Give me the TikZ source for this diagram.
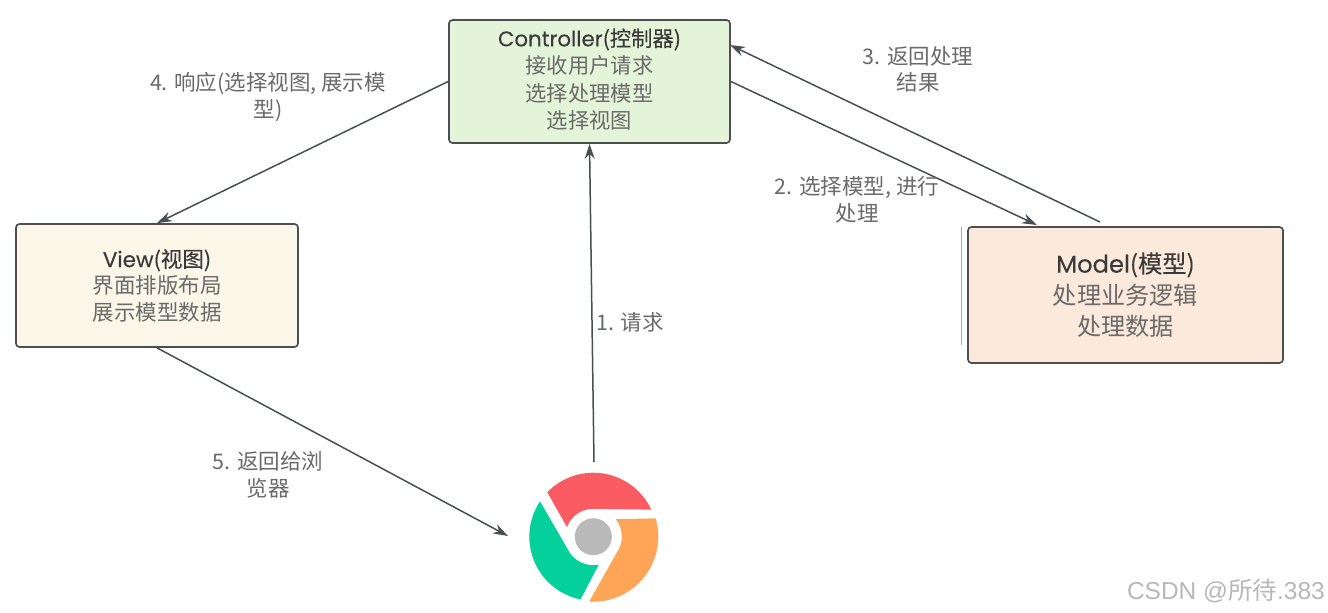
\documentclass[tikz,border=0pt]{standalone}
\usepackage{fontspec}
\usetikzlibrary{arrows.meta,calc}
\setmainfont{Noto Sans CJK SC}
\newfontfamily\latf[FakeBold=0.25]{Poppins}
\newfontfamily\titlezh[FakeBold=0.25]{Noto Sans CJK SC}
\newfontfamily\wmlat{Liberation Sans}
\newfontfamily\wmzh{Noto Sans CJK SC}
\newcommand\ttl[2]{{\color{ink}{\latf #1}{\titlezh #2}}}
\definecolor{ink}{HTML}{3A3A3A}
\definecolor{soft}{HTML}{6A6A6A}
\definecolor{edge}{HTML}{4A4F54}
\tikzset{
  box/.style={draw=edge,line width=1.7pt,rounded corners=3.5pt,inner sep=0pt,align=center,text=soft},
  conn/.style={draw=edge,line width=1.5pt,-{Stealth[length=15pt,width=10pt]}},
  lab/.style={text=soft,align=center,inner sep=0pt,font=\fontsize{21.5}{26.5}\selectfont},
  faint/.style={draw=black!35,line width=0.6pt},
}
\begin{document}
\begin{tikzpicture}[x=1pt,y=-1pt]
\useasboundingbox (0,0) rectangle (1328,613);
\fill[white] (0,0) rectangle (1328,613);
\node[box,fill={rgb,255:red,228;green,244;blue,217},minimum width=281pt,minimum height=123pt] (c) at (589.5,81.5) {};
\node[align=center,inner sep=0pt,text=soft,font=\fontsize{21.3}{27.5}\selectfont] (ct) at (589.5,79.5)
  {\ttl{Controller}{(控制器)}\\接收用户请求\\选择处理模型\\选择视图};
\node[box,fill={rgb,255:red,250;green,247;blue,232},minimum width=282pt,minimum height=123pt,
  font=\fontsize{21.5}{26.5}\selectfont] (v) at (157,285.5)
  {\ttl{View}{(视图)}\\界面排版布局\\展示模型数据};
\node[box,fill={rgb,255:red,251;green,233;blue,219},minimum width=315pt,minimum height=136pt,
  font=\fontsize{24.2}{31.5}\selectfont] (m) at (1125.5,295)
  {\ttl{Model}{(模型)}\\处理业务逻辑\\处理数据};
\coordinate (mA) at (1037,225);
\coordinate (mB) at (1100,222);
\coordinate (cR) at (730,45);
\coordinate (bT) at (594,462);
\coordinate (bL) at (508,536);
\coordinate (f1) at (961,227);
\coordinate (f2) at (961,345);
\draw[faint] (f1) -- (f2);
\draw[conn] (bT) -- (c.south);
\draw[conn] (c.east) -- (mA);
\draw[conn] (mB) -- (cR);
\draw[conn] (c.west) -- (v.north);
\draw[conn] (v.south) -- (bL);
\node[lab] (l4) at (268,97) {4. 响应(选择视图, 展示模\\型)};
\node[lab] (l3) at (918,69.5) {3. 返回处理\\结果};
\node[lab] (l2) at (857,200) {2. 选择模型, 进行\\处理};
\node[lab] (l1) at (630,322) {1. 请求};
\node[lab] (l5) at (268,475) {5. 返回给浏\\览器};
\begin{scope}[shift={(593.3,536.7)}]
  \fill[fill={rgb,255:red,251;green,92;blue,100}] (136:64pt) arc[start angle=136,end angle=25,radius=64pt] -- (93:28pt) arc[start angle=93,end angle=160,radius=28pt] -- cycle;
  \fill[fill={rgb,255:red,4;green,208;blue,155}] (146.4:64pt) arc[start angle=146.4,end angle=258.5,radius=64pt] -- (281:28.5pt) arc[start angle=281,end angle=205,radius=28.5pt] -- cycle;
  \fill[fill={rgb,255:red,254;green,165;blue,88}] (16.4:65pt) arc[start angle=16.4,end angle=-93.6,radius=65pt] -- (-36.5:28.5pt) arc[start angle=-36.5,end angle=38,radius=28.5pt] -- cycle;
  \fill[fill={rgb,255:red,185;green,185;blue,185}] (0,0) circle[radius=18.5pt];
\end{scope}
\node[anchor=east,inner sep=0pt,text=black!28,font=\fontsize{24.5}{28}\selectfont] (wm) at (1325,591) {\wmlat CSDN @{\wmzh 所待}.383};
\end{tikzpicture}
\end{document}
